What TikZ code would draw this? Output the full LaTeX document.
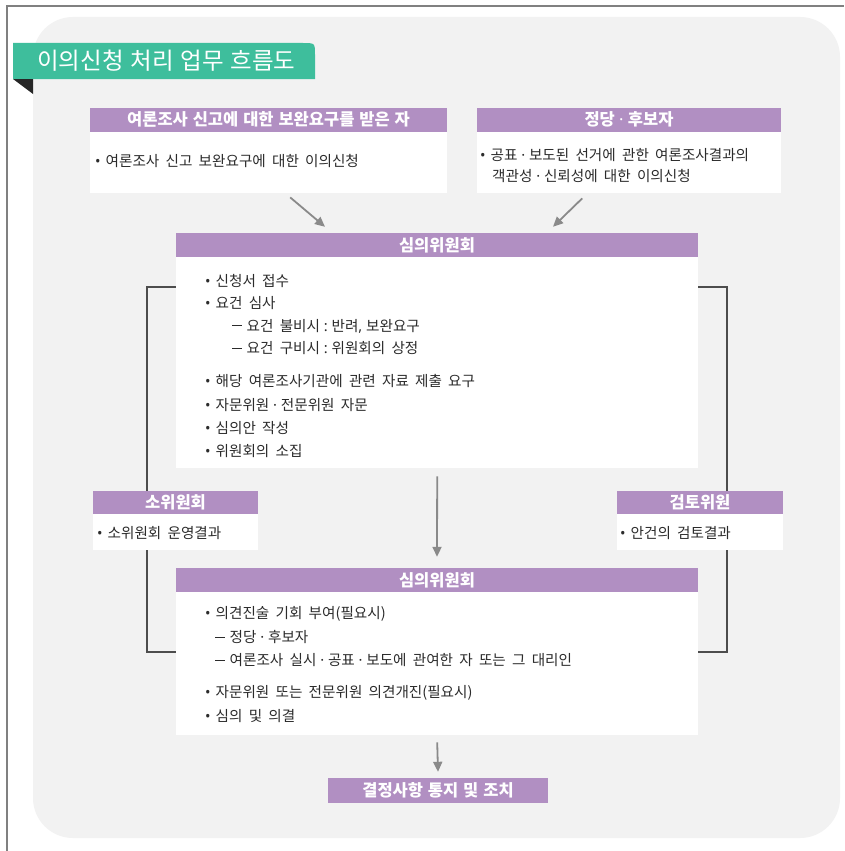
\documentclass[tikz,border=0pt]{standalone}
\usepackage{fontspec}
\setmainfont{Noto Sans CJK KR}[WordSpace=1.9]
\newfontfamily\hfont{Noto Sans CJK KR}[WordSpace=2.3]
\newfontfamily\tfont{Noto Sans CJK KR}[WordSpace=1.3]
\newfontfamily\latinf{Noto Sans}
\newcommand{\md}{{\latinf\ ·\ }}
\newcommand{\cln}{{\latinf\ :\ }}
\newcommand{\cma}{{\latinf,\ }}
\newcommand{\bul}{{\latinf •}\hspace{5pt}}
\newcommand{\dsh}{\rule[4.6pt]{10pt}{1pt}\hspace{4.5pt}}
\usetikzlibrary{calc,arrows.meta}
\definecolor{purp}{HTML}{B18FC2}
\definecolor{tabgreen}{HTML}{3EBE9C}
\definecolor{panel}{HTML}{F2F2F2}
\definecolor{arrgray}{HTML}{8A8A8A}
\definecolor{linegray}{HTML}{4D4D4D}
\definecolor{txtgray}{HTML}{2B2B2B}
\tikzset{
  head/.style={fill=purp, text=white, font=\hfont\bfseries\fontsize{16.5}{18}\selectfont, inner sep=0pt, minimum height=24pt},
  bodybox/.style={fill=white, inner sep=0pt},
  txt/.style={anchor=west, inner sep=0pt, text=txtgray, font=\fontsize{14.6}{16}\selectfont},
  arr/.style={draw=arrgray, line width=1.8pt, -{Triangle[length=10pt,width=9pt]}},
  brk/.style={draw=linegray, line width=1.2pt}
}
\begin{document}
\begin{tikzpicture}[x=1pt,y=-1pt]
\useasboundingbox (0,0) rectangle (844,851);
\fill[white] (0,0) rectangle (844,851);
\draw[draw=gray, line width=1.4pt] (7,851) -- (7,6) -- (844,6);
% panel
\fill[panel, rounded corners=40pt] (33,17) rectangle (840,838);
% title tab
\fill[tabgreen] (13,79) -- (13,43) -- (303,43) .. controls (315,43) .. (315,55) -- (315,79) -- cycle;
\fill[black!85] (13,79) -- (33,79) -- (33,94) -- cycle;
\node[anchor=west, inner sep=0pt, text=white, font=\tfont\fontsize{23.5}{25}\selectfont] (title) at (37,61) {이의신청 처리 업무 흐름도};

% brackets (behind)
\coordinate (lt) at (176,287);
\coordinate (lb) at (176,652);
\coordinate (rt) at (698,287);
\coordinate (rb) at (698,652);
\draw[brk] (lt) -- ++(-29,0) |- (lb);
\draw[brk] (rt) -- ++(29,0) |- (rb);

% box 1
\node[bodybox, anchor=north west, minimum width=357pt, minimum height=62pt] (b1) at (90,131) {};
\node[head, minimum width=357pt] (h1) at (268.5,119.5) {여론조사 신고에 대한 보완요구를 받은 자};
\node[txt] (t1) at (95,161) {\bul 여론조사 신고 보완요구에 대한 이의신청};

% box 2
\node[bodybox, anchor=north west, minimum width=304pt, minimum height=62pt] (b2) at (477,131) {};
\node[head, minimum width=304pt] (h2) at (629,119.5) {정당\md 후보자};
\node[txt] (t2a) at (480,155) {\bul 공표\md 보도된 선거에 관한 여론조사결과의};
\node[txt] (t2b) at (492,176) {객관성\md 신뢰성에 대한 이의신청};

% box 3
\node[bodybox, anchor=north west, minimum width=522pt, minimum height=211pt] (b3) at (176,257) {};
\node[head, minimum width=522pt] (h3) at (437,245) {심의위원회};
\node[txt] (t3a) at (205,281) {\bul 신청서 접수};
\node[txt] (t3b) at (205,303) {\bul 요건 심사};
\node[txt] (t3c) at (232,326) {\dsh 요건 불비시\cln 반려\cma 보완요구};
\node[txt] (t3d) at (232,348) {\dsh 요건 구비시\cln 위원회의 상정};
\node[txt] (t3e) at (205,381) {\bul 해당 여론조사기관에 관련 자료 제출 요구};
\node[txt] (t3f) at (205,405) {\bul 자문위원\md 전문위원 자문};
\node[txt] (t3g) at (205,428) {\bul 심의안 작성};
\node[txt] (t3h) at (205,451) {\bul 위원회의 소집};

% side boxes
\node[bodybox, anchor=north west, minimum width=165pt, minimum height=36pt] (bs) at (93,514) {};
\node[head, minimum width=165pt, minimum height=23pt] (hs) at (175.5,502.5) {소위원회};
\node[txt] (ts) at (97,533) {\bul 소위원회 운영결과};
\node[bodybox, anchor=north west, minimum width=166pt, minimum height=36pt] (bt) at (617,514) {};
\node[head, minimum width=166pt, minimum height=23pt] (ht) at (700,502.5) {검토위원};
\node[txt] (tt) at (620,533) {\bul 안건의 검토결과};

% box 4
\node[bodybox, anchor=north west, minimum width=522pt, minimum height=143pt] (b4) at (176,592) {};
\node[head, minimum width=522pt] (h4) at (437,580) {심의위원회};
\node[txt] (t4a) at (205,614) {\bul 의견진술 기회 부여(필요시)};
\node[txt] (t4b) at (215,637) {\dsh 정당\md 후보자};
\node[txt] (t4c) at (215,660) {\dsh 여론조사 실시\md 공표\md 보도에 관여한 자 또는 그 대리인};
\node[txt] (t4d) at (205,693) {\bul 자문위원 또는 전문위원 의견개진(필요시)};
\node[txt] (t4e) at (205,716) {\bul 심의 및 의결};

% final
\node[head, minimum width=220pt, minimum height=25pt] (fin) at (438,790.5) {결정사항 통지 및 조치};

% arrows
\draw[arr] ($(b1.south)+(21.5,4)$) -- ($(h3.north)+(-112,-6)$);
\draw[arr] ($(b2.south)+(-47,5)$) -- ($(h3.north)+(116,-6)$);
\draw[arr] ($(b3.south)+(0,8)$) -- ($(h4.north)+(0,-11)$);
\draw[arr] ($(b4.south)+(0,7)$) -- ($(fin.north)+(0,-6)$);
\end{tikzpicture}
\end{document}
